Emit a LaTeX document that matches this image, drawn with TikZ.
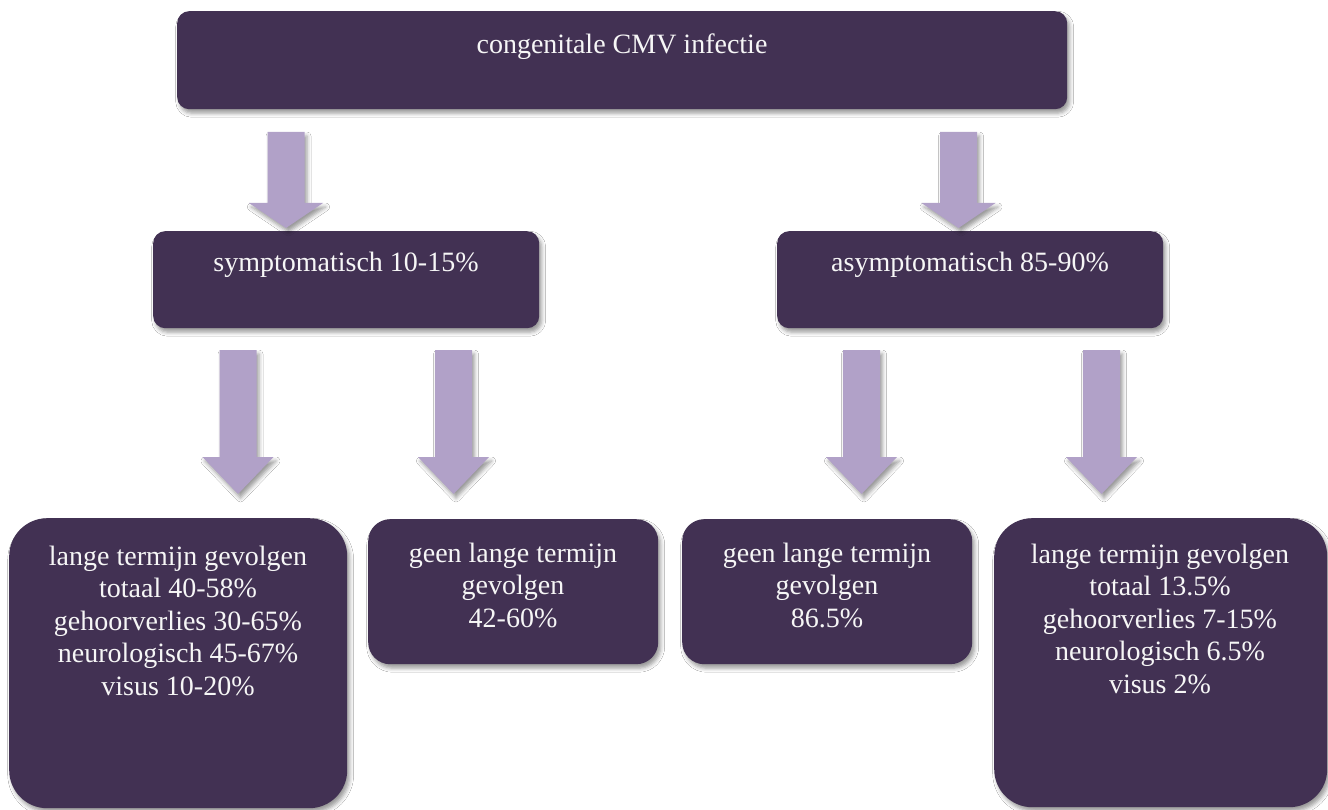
\documentclass[tikz,border=0pt]{standalone}
\usepackage{fontspec}
\setmainfont{Liberation Serif}
\usetikzlibrary{shadows.blur}
\definecolor{boxfill}{HTML}{423153}
\definecolor{arrowfill}{HTML}{B1A1C8}
\definecolor{txtcol}{HTML}{F6F6F6}
\newcommand\myarrow[7][]{%
  \fill[arrowstyle] (#2-#6,#3) -- (#2+#6,#3) -- (#2+#6,#4) -- (#2+#7,#4) -- (#2,#5) coordinate (#1) -- (#2-#7,#4) -- (#2-#6,#4) -- cycle;}
\begin{document}
\begin{tikzpicture}[x=1pt,y=-1pt,
  softshadow/.style={blur shadow={shadow xshift=2.5pt,shadow yshift=-4pt,shadow blur radius=4pt,shadow opacity=40}},
  box/.style={fill=boxfill, draw=none, anchor=north west, inner sep=0pt, softshadow},
  txt/.style={text=txtcol, font=\fontsize{28}{32.5}\selectfont, align=center, anchor=base, inner sep=0pt},
  arrowstyle/.style={fill=arrowfill, softshadow}]
\fill[white] (0,0) rectangle (1328,810);
\useasboundingbox (0,0) rectangle (1328,810);

% boxes
\node[box, rounded corners=12pt, minimum width=890pt, minimum height=98pt] (top) at (177,11) {};
\node[box, rounded corners=12pt, minimum width=386pt, minimum height=97pt] (sym) at (153,231) {};
\node[box, rounded corners=12pt, minimum width=386pt, minimum height=97pt] (asym) at (777,231) {};
\node[box, rounded corners=38pt, minimum width=338pt, minimum height=290pt] (b1) at (9,518) {};
\node[box, rounded corners=22pt, minimum width=290pt, minimum height=145pt] (b2) at (368,519) {};
\node[box, rounded corners=22pt, minimum width=290pt, minimum height=145pt] (b3) at (682,519) {};
\node[box, rounded corners=38pt, minimum width=333pt, minimum height=289pt] (b4) at (994,518) {};

% arrows
\myarrow[a1]{286}{132}{203}{228}{18.5}{37}
\myarrow[a2]{958.5}{132}{203}{228}{18.5}{37}
\myarrow[a3]{238}{350}{457}{494}{18.5}{35.5}
\myarrow[a4]{453.5}{350}{457}{494}{18.5}{35.5}
\myarrow[a5]{861.5}{350}{457}{494}{18.5}{35.5}
\myarrow[a6]{1101.5}{350}{457}{494}{18.5}{35.5}

% texts (base anchor = baseline of last line)
\node[txt] (ttop) at (622,54) {congenitale CMV infectie};
\node[txt] (tsym) at (346,272) {symptomatisch 10-15\%};
\node[txt] (tasym) at (970,272) {asymptomatisch 85-90\%};
\node[txt] (tb1) at (178,695) {lange termijn gevolgen\\totaal 40-58\%\\gehoorverlies 30-65\%\\neurologisch 45-67\%\\visus 10-20\%};
\node[txt] (tb2) at (513,627) {geen lange termijn\\gevolgen\\42-60\%};
\node[txt] (tb3) at (827,627) {geen lange termijn\\gevolgen\\86.5\%};
\node[txt] (tb4) at (1160,693) {lange termijn gevolgen\\totaal 13.5\%\\gehoorverlies 7-15\%\\neurologisch 6.5\%\\visus 2\%};
\end{tikzpicture}
\end{document}
